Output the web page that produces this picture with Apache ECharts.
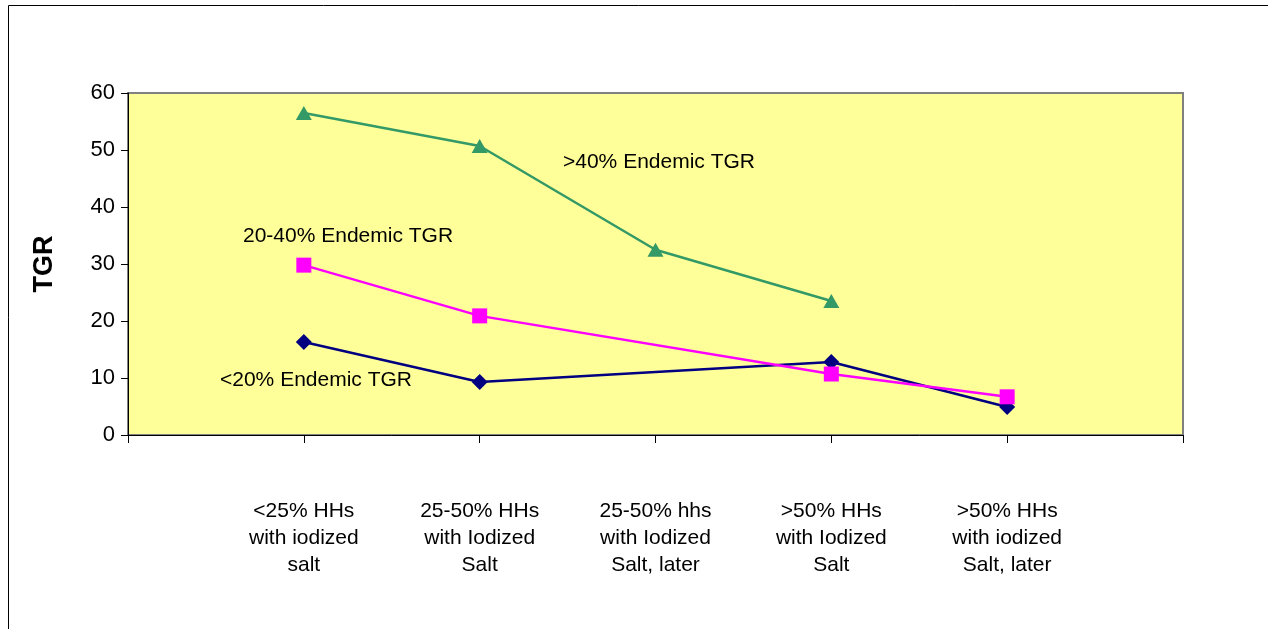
<!DOCTYPE html>
<html>
<head>
<meta charset="utf-8">
<script src="https://cdn.jsdelivr.net/npm/echarts@6/dist/echarts.min.js"></script>
<style>
html,body{margin:0;padding:0;background:#fff;}
#chart{width:1268px;height:629px;}
</style>
</head>
<body>
<div id="chart"></div>
<script>
// categories (empty ends give the half-gap either side)
var categories = ['', '<25% HHs\nwith iodized\nsalt', '25-50% HHs\nwith Iodized\nSalt', '25-50% hhs\nwith Iodized\nSalt, later', '>50% HHs\nwith Iodized\nSalt', '>50% HHs\nwith iodized\nSalt, later', ''];

var lowTGR  = [null, 16.3, 9.3, null, 12.8, 4.9, null];   // <20% Endemic TGR
var midTGR  = [null, 29.8, 20.9, null, 10.7, 6.7, null];  // 20-40% Endemic TGR
var highTGR = [null, 56.5, 50.7, 32.5, 23.5, null, null]; // >40% Endemic TGR

var yTicks = [0, 10, 20, 30, 40, 50, 60];

var myChart = echarts.init(document.getElementById('chart'));

var font = 'Liberation Sans, Arial, sans-serif';

var option = {
    animation: false,
    grid: {
        left: 128,
        top: 93,
        right: 85,
        bottom: 194,
        show: true,
        backgroundColor: '#FFFF99',
        borderColor: '#808080',
        borderWidth: 2
    },
    xAxis: {
        type: 'category',
        boundaryGap: false,
        data: categories,
        axisLine: {lineStyle: {color: '#000', width: 1}},
        axisTick: {show: true, length: 8, alignWithLabel: true, lineStyle: {color: '#000'}},
        axisLabel: {
            interval: 0,
            margin: 63,
            fontFamily: font,
            fontSize: 21,
            lineHeight: 27,
            color: '#000'
        },
        splitLine: {show: false}
    },
    yAxis: {
        type: 'value',
        min: yTicks[0],
        max: yTicks[yTicks.length - 1],
        interval: 10,
        name: 'TGR',
        nameLocation: 'middle',
        nameGap: 70,
        nameRotate: 90,
        nameTextStyle: {fontFamily: font, fontSize: 27, fontWeight: 'bold', color: '#000'},
        axisLine: {show: true, lineStyle: {color: '#000', width: 1}},
        axisTick: {show: true, length: 7, lineStyle: {color: '#000'}},
        axisLabel: {fontFamily: font, fontSize: 22, color: '#000', margin: 13},
        splitLine: {show: false}
    },
    series: [
        {
            name: '<20% Endemic TGR',
            type: 'line',
            data: lowTGR,
            connectNulls: true,
            symbol: 'diamond',
            symbolSize: 16,
            lineStyle: {color: '#000080', width: 2.5},
            itemStyle: {color: '#000080'}
        },
        {
            name: '20-40% Endemic TGR',
            type: 'line',
            data: midTGR,
            connectNulls: true,
            symbol: 'rect',
            symbolSize: 15,
            lineStyle: {color: '#FF00FF', width: 2.5},
            itemStyle: {color: '#FF00FF'}
        },
        {
            name: '>40% Endemic TGR',
            type: 'line',
            data: highTGR,
            connectNulls: true,
            symbol: 'triangle',
            symbolSize: [16, 14],
            lineStyle: {color: '#339966', width: 2.5},
            itemStyle: {color: '#339966'}
        }
    ],
    graphic: [
        // outer frame
        {type: 'rect', shape: {x: 8.5, y: 5.5, width: 1300, height: 700}, style: {fill: 'none', stroke: '#000', lineWidth: 1}, silent: true},
        {type: 'text', left: 563, top: 152, style: {text: '>40% Endemic TGR', fontFamily: font, fontSize: 21, fill: '#000'}},
        {type: 'text', left: 243, top: 226, style: {text: '20-40% Endemic TGR', fontFamily: font, fontSize: 21, fill: '#000'}},
        {type: 'text', left: 220, top: 370, style: {text: '<20% Endemic TGR', fontFamily: font, fontSize: 21, fill: '#000'}}
    ]
};

myChart.setOption(option);
</script>
</body>
</html>
